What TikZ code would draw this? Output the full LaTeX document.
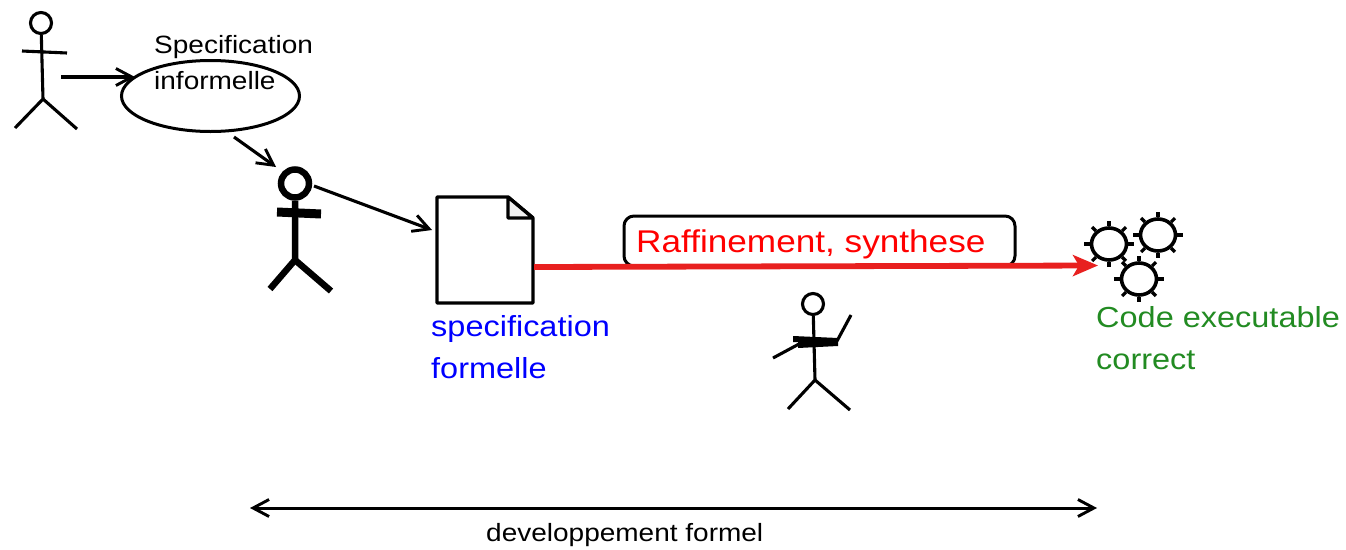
\documentclass[tikz,border=0pt]{standalone}
\usepackage{fontspec}
\setmainfont[Ligatures=CommonOff,FakeStretch=1.12]{Liberation Sans}
\usetikzlibrary{arrows.meta,shapes.geometric}
\tikzset{
  x=1pt,y=-1pt,
  lbl/.style={inner sep=0pt,anchor=base west,align=left},
  thinact/.style={line width=3.1pt},
  boldact/.style={line width=6.5pt},
  barb/.tip={Straight Barb[length=16pt,width=17pt,line width=2.9pt]},
  conn/.style={line width=3.1pt,-barb},
  gearc/.style={ellipse,draw,line width=3.6pt,fill=white,minimum width=35pt,minimum height=32pt,inner sep=0pt},
  headthin/.style={circle,draw,line width=3.1pt,fill=white,minimum size=21pt,inner sep=0pt},
  small/.style={font=\fontsize{25}{25}\selectfont},
  mid/.style={font=\fontsize{29}{29}\selectfont},
  big/.style={font=\fontsize{31.4}{31.4}\selectfont},
}
\definecolor{redline}{HTML}{E8201F}
\definecolor{codegreen}{HTML}{228B22}
\newcommand{\gearticks}[1]{\foreach \a in {0,45,...,315}{\draw[line width=3.2pt] (#1.\a) -- ++(\a:5.5pt);}}
\begin{document}
\begin{tikzpicture}
\useasboundingbox (0,0) rectangle (1346,549);
% actor 1
\node[headthin] (h1) at (41,23) {};
\coordinate (hip1) at (43,99);
\coordinate (a1l) at (22,51); \coordinate (a1r) at (67,53);
\coordinate (l1l) at (15,128); \coordinate (l1r) at (77,129);
\draw[thinact] (h1) -- (hip1) (a1l) -- (a1r) (l1l) -- (hip1) -- (l1r);
% ellipse
\draw[line width=3pt] (210.5,96) ellipse [x radius=89,y radius=35.5];
\coordinate (e1s) at (61,77); \coordinate (e1t) at (135,77);
\draw[conn] (e1s) -- (e1t);
\node[lbl,small] (t1) at (154,53) {Specification};
\node[lbl,small] (t2) at (154,89) {informelle};
% actor 2
\node[circle,draw,line width=6.5pt,fill=white,minimum size=28pt,inner sep=0pt] (h2) at (295,183.5) {};
\coordinate (hip2) at (295,260);
\coordinate (a2l) at (277,212); \coordinate (a2r) at (321,214);
\coordinate (l2l) at (270,289); \coordinate (l2r) at (331,291);
\draw[boldact] (h2) -- (hip2) (l2l) -- (hip2) -- (l2r);
\draw[line width=9pt] (a2l) -- (a2r);
\coordinate (e2s) at (234,137); \coordinate (e2t) at (276,167);
\draw[conn] (e2s) -- (e2t);
\coordinate (e3s) at (314,186); \coordinate (e3t) at (432,230);
\draw[conn] (e3s) -- (e3t);
% document
\draw[line width=3.4pt,fill=white,line join=bevel] (437,197) -- (508,197) -- (533,218) -- (533,303) -- (437,303) -- cycle;
\draw[line width=3.4pt,fill=black!6,line join=bevel] (508,197) -- (508,218) -- (533,218) -- cycle;
\node[lbl,blue,mid] (t3) at (431,336) {specification};
\node[lbl,blue,mid] (t4) at (431,378) {formelle};
% raffinement box
\draw[line width=3pt,rounded corners=10pt] (624,216) rectangle (1015,266);
\node[lbl,red,big] (t5) at (636,252) {Raffinement, synthese};
\coordinate (rs) at (534,267); \coordinate (rt) at (1098,265.5);
\draw[redline,line width=5.8pt,-{Stealth[length=25pt,width=21pt,inset=6pt]}] (rs) -- (rt);
% gears
\node[gearc] (g1) at (1109,244) {}; \gearticks{g1}
\node[gearc] (g2) at (1158,235) {}; \gearticks{g2}
\node[gearc] (g3) at (1139,279) {}; \gearticks{g3}
\node[lbl,codegreen,mid] (t6) at (1096,327) {Code executable};
\node[lbl,codegreen,mid] (t7) at (1096,369) {correct};
% actor 3
\node[headthin] (h3) at (813,304) {};
\coordinate (hip3) at (815,380);
\coordinate (l3l) at (788,409); \coordinate (l3r) at (850,410);
\draw[thinact] (h3) -- (hip3) (l3l) -- (hip3) -- (l3r);
\fill (793,336) -- (838,338) -- (838,346) -- (798,348) -- (798,342) -- (793,342) -- cycle;
\coordinate (ar1) at (837,341); \coordinate (ar2) at (851,315);
\coordinate (al1) at (799,344); \coordinate (al2) at (773,358);
\draw[thinact] (ar1) -- (ar2) (al1) -- (al2);
% span arrow
\coordinate (ds) at (250,508); \coordinate (dt) at (1097,508);
\draw[line width=3pt,barb-barb] (ds) -- (dt);
\node[lbl,small] (t8) at (486,541.5) {developpement formel};
\end{tikzpicture}
\end{document}
